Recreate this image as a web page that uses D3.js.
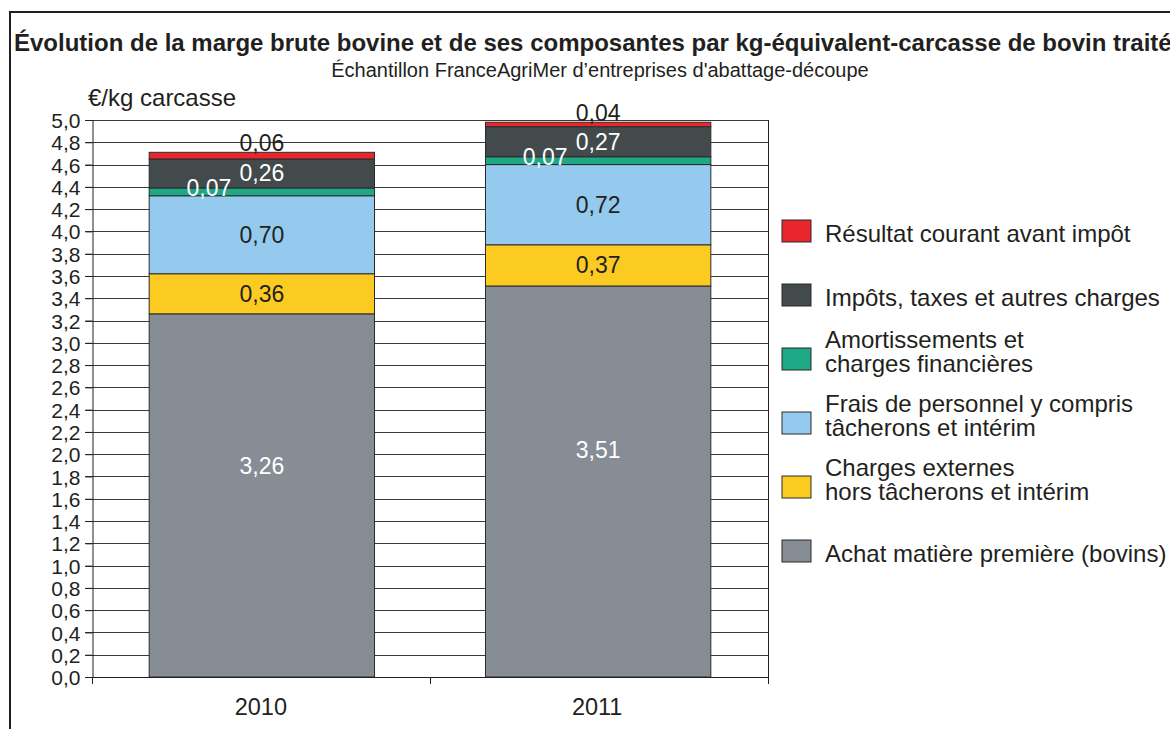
<!DOCTYPE html>
<html lang="fr">
<head>
<meta charset="UTF-8">
<title>Marge brute bovine</title>
<script src="https://d3js.org/d3.v7.min.js"></script>
<style>
  body { margin: 0; background: #fff; }
  svg { display: block; font-family: "Liberation Sans", Arial, sans-serif; }
  .tick-label { font-size: 21px; fill: #231f20; }
  .year-label { font-size: 23.5px; fill: #231f20; }
  .legend-text { font-size: 24px; fill: #231f20; }
  .val { font-size: 23px; text-anchor: middle; }
</style>
</head>
<body>
<svg width="1170" height="729"></svg>
<script>
// données
const years = ["2010", "2011"];
const seriesNames = [
  "Achat matière première (bovins)",
  "Charges externes hors tâcherons et intérim",
  "Frais de personnel y compris tâcherons et intérim",
  "Amortissements et charges financières",
  "Impôts, taxes et autres charges",
  "Résultat courant avant impôt"
];
const achat      = [3.26, 3.51];
const externes   = [0.36, 0.37];
const personnel  = [0.70, 0.72];
const amort      = [0.07, 0.07];
const impots     = [0.26, 0.27];
const resultat   = [0.06, 0.04];
const yTicks = d3.range(0, 26).map(i => i / 5);

// lignes de la légende (de haut en bas)
const legendLines = [
  ["Résultat courant avant impôt"],
  ["Impôts, taxes et autres charges"],
  ["Amortissements et", "charges financières"],
  ["Frais de personnel y compris", "tâcherons et intérim"],
  ["Charges externes", "hors tâcherons et intérim"],
  ["Achat matière première (bovins)"]
];

const colors = ["#868d95", "#fccb22", "#94caed", "#1ea886", "#434a4c", "#e8262c"];
const labelColors = ["#fff", "#231f20", "#231f20", "#fff", "#fff", "#231f20"];

const values = [achat, externes, personnel, amort, impots, resultat];
const table = years.map((yr, i) => {
  const row = { year: yr };
  seriesNames.forEach((s, k) => row[s] = values[k][i]);
  return row;
});
const stacked = d3.stack().keys(seriesNames)(table);

const svg = d3.select("svg");
svg.append("rect").attr("width", 1170).attr("height", 729).attr("fill", "#fff");

// cadre
svg.append("path")
  .attr("d", "M10,729V12H1170")
  .attr("fill", "none")
  .attr("stroke", "#231f20")
  .attr("stroke-width", 2);

// titres
svg.append("text")
  .attr("x", 14).attr("y", 51)
  .style("font-size", "24px").style("font-weight", "bold").attr("fill", "#231f20")
  .text("Évolution de la marge brute bovine et de ses composantes par kg-équivalent-carcasse de bovin traité");
svg.append("text")
  .attr("x", 600).attr("y", 77)
  .attr("text-anchor", "middle")
  .style("font-size", "20px").attr("fill", "#231f20")
  .text("Échantillon FranceAgriMer d’entreprises d'abattage-découpe");
svg.append("text")
  .attr("x", 88).attr("y", 106)
  .style("font-size", "24px").attr("fill", "#231f20")
  .text("€/kg carcasse");

const left = 92, right = 768;
const y = d3.scaleLinear().domain([0, 5]).range([677, 120]);
const x = d3.scaleBand().domain(years).range([left, right])
  .paddingInner(0.33).paddingOuter(0.17);

// grille
svg.append("g").selectAll("line").data(yTicks).join("line")
  .attr("x1", left - 7).attr("x2", right)
  .attr("y1", d => Math.round(y(d)) + 0.5).attr("y2", d => Math.round(y(d)) + 0.5)
  .attr("stroke", "#3a3a3a").attr("stroke-width", 1);

// axe vertical
const yAxis = svg.append("g")
  .attr("transform", `translate(${left + 0.5},0)`)
  .call(d3.axisLeft(y).tickValues(yTicks).tickSize(7).tickPadding(5)
    .tickFormat(d => d3.format(".1f")(d).replace(".", ",")));
yAxis.attr("font-family", null).attr("font-size", null);
yAxis.select(".domain").attr("stroke", "#231f20");
yAxis.selectAll(".tick line").attr("stroke", "#231f20");
yAxis.selectAll(".tick text").attr("class", "tick-label").attr("fill", "#231f20")
  .attr("dy", "0.36em");

// bord droit
svg.append("line")
  .attr("x1", right + 0.5).attr("x2", right + 0.5)
  .attr("y1", y(5)).attr("y2", y(0))
  .attr("stroke", "#231f20");

// barres
const layers = svg.append("g").selectAll("g").data(stacked).join("g")
  .attr("fill", (d, i) => colors[i]);
layers.selectAll("rect").data(d => d).join("rect")
  .attr("x", d => x(d.data.year))
  .attr("width", x.bandwidth())
  .attr("y", d => y(d[1]))
  .attr("height", d => y(d[0]) - y(d[1]))
  .attr("stroke", "#2b2b2b").attr("stroke-width", 1);

// axe horizontal
const xAxisLine = d3.scalePoint().domain(["a", "b", "c"]).range([left, right]);
svg.append("line")
  .attr("x1", left).attr("x2", right)
  .attr("y1", y(0) + 0.5).attr("y2", y(0) + 0.5)
  .attr("stroke", "#231f20");
svg.append("g").selectAll("line").data(xAxisLine.domain()).join("line")
  .attr("x1", d => Math.round(xAxisLine(d)) + 0.5).attr("x2", d => Math.round(xAxisLine(d)) + 0.5)
  .attr("y1", y(0)).attr("y2", y(0) + 7)
  .attr("stroke", "#231f20");
svg.append("g").selectAll("text").data(years).join("text")
  .attr("class", "year-label")
  .attr("x", d => x(d) + x.bandwidth() / 2 - 1)
  .attr("y", 715)
  .attr("text-anchor", "middle")
  .text(d => d);

// étiquettes de valeurs
const fmt = v => d3.format(".2f")(v).replace(".", ",");
stacked.forEach((layer, k) => {
  layer.forEach(d => {
    const cx = x(d.data.year) + x.bandwidth() / 2;
    const v = d[1] - d[0];
    let lx = cx, ly;
    if (k === 0) ly = y(d[0] + v * 0.58) + 8;        // achat : un peu au-dessus du milieu
    else if (k === 3) { lx = cx - 53; ly = y(d[1]) + 8; } // amortissements : décalé à gauche
    else if (k === 5) ly = y(d[1]) - 1;               // résultat : au-dessus
    else ly = y((d[0] + d[1]) / 2) + 8;
    svg.append("text")
      .attr("class", "val")
      .attr("x", lx).attr("y", ly)
      .attr("fill", labelColors[k])
      .text(fmt(v));
  });
});

// légende
const legendY = d3.scalePoint().domain(d3.range(6)).range([231, 551]);
const legend = svg.append("g").selectAll("g").data(legendLines).join("g")
  .attr("transform", (d, i) => `translate(782,${legendY(i)})`);
legend.append("rect")
  .attr("x", 0).attr("y", -11).attr("width", 29).attr("height", 22)
  .attr("fill", (d, i) => colors[5 - i])
  .attr("stroke", "#2b2b2b");
legend.append("text")
  .attr("class", "legend-text")
  .attr("y", d => d.length === 1 ? 11 : -11)
  .selectAll("tspan").data(d => d).join("tspan")
  .attr("x", 43)
  .attr("dy", (d, j) => j === 0 ? 0 : 24)
  .text(d => d);
</script>
</body>
</html>
